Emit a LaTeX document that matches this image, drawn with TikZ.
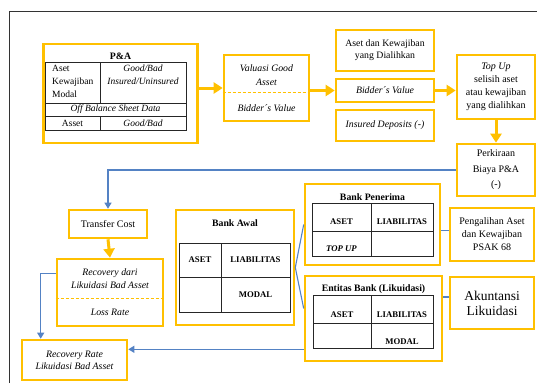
\documentclass[tikz,border=0pt]{standalone}
\usepackage{fontspec}
\setmainfont{Liberation Serif}
\usetikzlibrary{arrows.meta}
\definecolor{kuning}{RGB}{255,192,0}
\definecolor{biru}{RGB}{84,130,196}
\tikzset{%
  >={Triangle[width=11pt,length=9pt]},
  % Specifications for style of nodes:
            base/.style = {rectangle, draw=kuning, line width=2.6pt,
                           inner sep=2pt, text centered, align=center},
             box/.style = {base, font=\fontsize{10}{13}\selectfont},
          miring/.style = {font=\fontsize{9.8}{13}\selectfont\itshape, align=center},
           judul/.style = {font=\fontsize{9.8}{12}\selectfont\bfseries},
             isi/.style = {font=\fontsize{8.7}{10}\selectfont\bfseries, inner sep=1pt},
          isipa/.style = {font=\fontsize{9.5}{13}\selectfont, inner sep=0pt, align=center},
           tabel/.style = {draw=black!85, line width=0.9pt},
           putus/.style = {draw=kuning, line width=1pt, dash pattern=on 3pt off 2pt},
           panah/.style = {->, draw=kuning, line width=3pt},
           garis/.style = {draw=biru, line width=1.1pt},
       panahbiru/.style = {garis, -{Triangle[width=7pt,length=6pt]}},
         bingkai/.style = {draw=black!80, line width=1pt},
}
\begin{document}
\begin{tikzpicture}[x=1pt, y=-1pt]
  \useasboundingbox (0,0) rectangle (537,383);
  \draw[bingkai] (9,383) -- (9,11.5) -- (537,11.5);

  % Specification of nodes (position, etc.)
  \node (pa)          [box, minimum width=154, minimum height=99] at (120.5,93.5) {};
  \node (patitle)     [judul] at (120.5,56) {P\&A};
  \draw[tabel] (45,62) rectangle (186,130);
  \draw[tabel] (100,62) -- (100,103) (45,103) -- (186,103) (45,116) -- (186,116) (100,116) -- (100,130);
  \node (pakomp)      [isipa, anchor=west, align=left] at (52,81) {Aset\\Kewajiban\\Modal};
  \node (pakual)      [isipa, font=\fontsize{9.5}{13}\selectfont\itshape] at (143,74.5) {Good/Bad\\Insured/Uninsured};
  \node (paoff)       [isipa, font=\fontsize{9.5}{13}\selectfont\itshape] at (115.5,109.5) {Off Balance Sheet Data};
  \node (paasset)     [isipa] at (72.5,123) {Asset};
  \node (pagood)      [isipa, font=\fontsize{9.5}{13}\selectfont\itshape] at (143,123) {Good/Bad};

  \node (valuasi)     [box, minimum width=85, minimum height=66] at (266.5,88) {};
  \node (valuasigood) [miring, font=\fontsize{9.8}{14}\selectfont\itshape] at (266.5,75) {Valuasi Good\\Asset};
  \node (valuasibid)  [miring] at (266.5,108) {Bidder´s Value};

  \node (asetkew)     [box, minimum width=98, minimum height=41, font=\fontsize{9.8}{12}\selectfont] at (385,50.5) {Aset dan Kewajiban\\yang Dialihkan};
  \node (bidder)      [box, minimum width=98, minimum height=23, font=\fontsize{9.8}{12}\selectfont\itshape] at (385,90.5) {Bidder´s Value};
  \node (insured)     [box, minimum width=98, minimum height=31, font=\fontsize{9.8}{12}\selectfont\itshape] at (385,125.5) {Insured Deposits (-)};

  \node (topup)       [box, minimum width=78, minimum height=64] at (496,87) {\textit{Top Up}\\selisih aset\\atau kewajiban\\yang dialihkan};
  \node (perkiraan)   [box, minimum width=78, minimum height=52, font=\fontsize{10}{15.5}\selectfont] at (496,170) {Perkiraan\\Biaya P\&A\\(-)};

  \node (transfer)    [box, minimum width=78, minimum height=28] at (108,224) {Transfer Cost};
  \node (recovery)    [box, minimum width=106, minimum height=67] at (110,292.5) {};
  \node (recoverydr)  [miring] at (110,278.5) {Recovery dari\\Likuidasi Bad Asset};
  \node (lossrate)    [miring] at (110,312) {Loss Rate};
  \node (rate)        [box, minimum width=105, minimum height=40, font=\fontsize{9.8}{12}\selectfont\itshape] at (74.5,360) {Recovery Rate\\Likuidasi Bad Asset};

  \node (awal)        [box, minimum width=118, minimum height=115] at (235,267.5) {};
  \node (awaltitle)   [judul] at (235,223) {Bank Awal};
  \draw[tabel] (179,243) rectangle (290,312);
  \draw[tabel] (221,243) -- (221,312) (179,277) -- (290,277);
  \node (awalaset)    [isi] at (200,260) {ASET};
  \node (awalliab)    [isi] at (255.5,260) {LIABILITAS};
  \node (awalmodal)   [isi] at (255.5,295) {MODAL};

  \node (penerima)    [box, minimum width=135, minimum height=81] at (372.5,224.5) {};
  \node (penerimatitle) [judul] at (372.5,197) {Bank Penerima};
  \draw[tabel] (312,203) rectangle (433,256);
  \draw[tabel] (371,203) -- (371,256) (312,231) -- (433,231);
  \node (penerimaaset) [isi] at (341.5,222) {ASET};
  \node (penerimaliab) [isi] at (402,222) {LIABILITAS};
  \node (penerimatop)  [isi, font=\fontsize{8.7}{10}\selectfont\bfseries\itshape] at (341.5,249) {TOP UP};

  \node (entitas)     [box, minimum width=137, minimum height=85] at (373.5,318.5) {};
  \node (entitastitle) [judul] at (373.5,289) {Entitas Bank (Likuidasi)};
  \draw[tabel] (313,295) rectangle (433,348);
  \draw[tabel] (371,295) -- (371,348) (313,323) -- (433,323);
  \node (entitasaset) [isi] at (342,315) {ASET};
  \node (entitasliab) [isi] at (402,315) {LIABILITAS};
  \node (entitasmodal) [isi] at (402,342) {MODAL};

  \node (pengalihan)  [box, minimum width=84, minimum height=53] at (492,234.5) {Pengalihan Aset\\dan Kewajiban\\PSAK 68};
  \node (akuntansi)   [box, minimum width=84, minimum height=52, font=\fontsize{13.5}{15}\selectfont] at (492,303) {Akuntansi\\Likuidasi};

  % garis putus di dalam kotak
  \draw[putus] ([yshift=-4pt]valuasi.west) -- ([yshift=-4pt]valuasi.east);
  \draw[putus] ([yshift=-5.5pt]recovery.west) -- ([yshift=-5.5pt]recovery.east);

  % panah kuning
  \draw[panah] (pa.east |- valuasi.west) -- (valuasi.west);
  \draw[panah] (valuasi.east |- bidder.west) -- (bidder.west);
  \draw[panah] (bidder.east) -- (bidder.east -| topup.west);
  \draw[panah] (topup.south) -- (perkiraan.north);
  \draw[panah] (transfer.south) -- (recovery.north);

  % garis biru
  \draw[panahbiru] (perkiraan.west) -| (transfer.north);
  \draw[panahbiru] ([yshift=-16pt]recovery.north west) -| ([xshift=20pt]rate.north west);
  \draw[panahbiru] ([yshift=13pt]entitas.south west) -- ([yshift=13pt]entitas.south west -| rate.east);
  \draw[garis] (penerima.west) -- (awal.east) -- ([yshift=10pt]entitas.west);
  \draw[garis] ([yshift=-6pt]penerima.east) -- ([yshift=-6pt]penerima.east -| pengalihan.west);
  \draw[garis] ([yshift=6pt]akuntansi.west -| entitas.east) -- ([yshift=6pt]akuntansi.west);

\end{tikzpicture}
\end{document}
